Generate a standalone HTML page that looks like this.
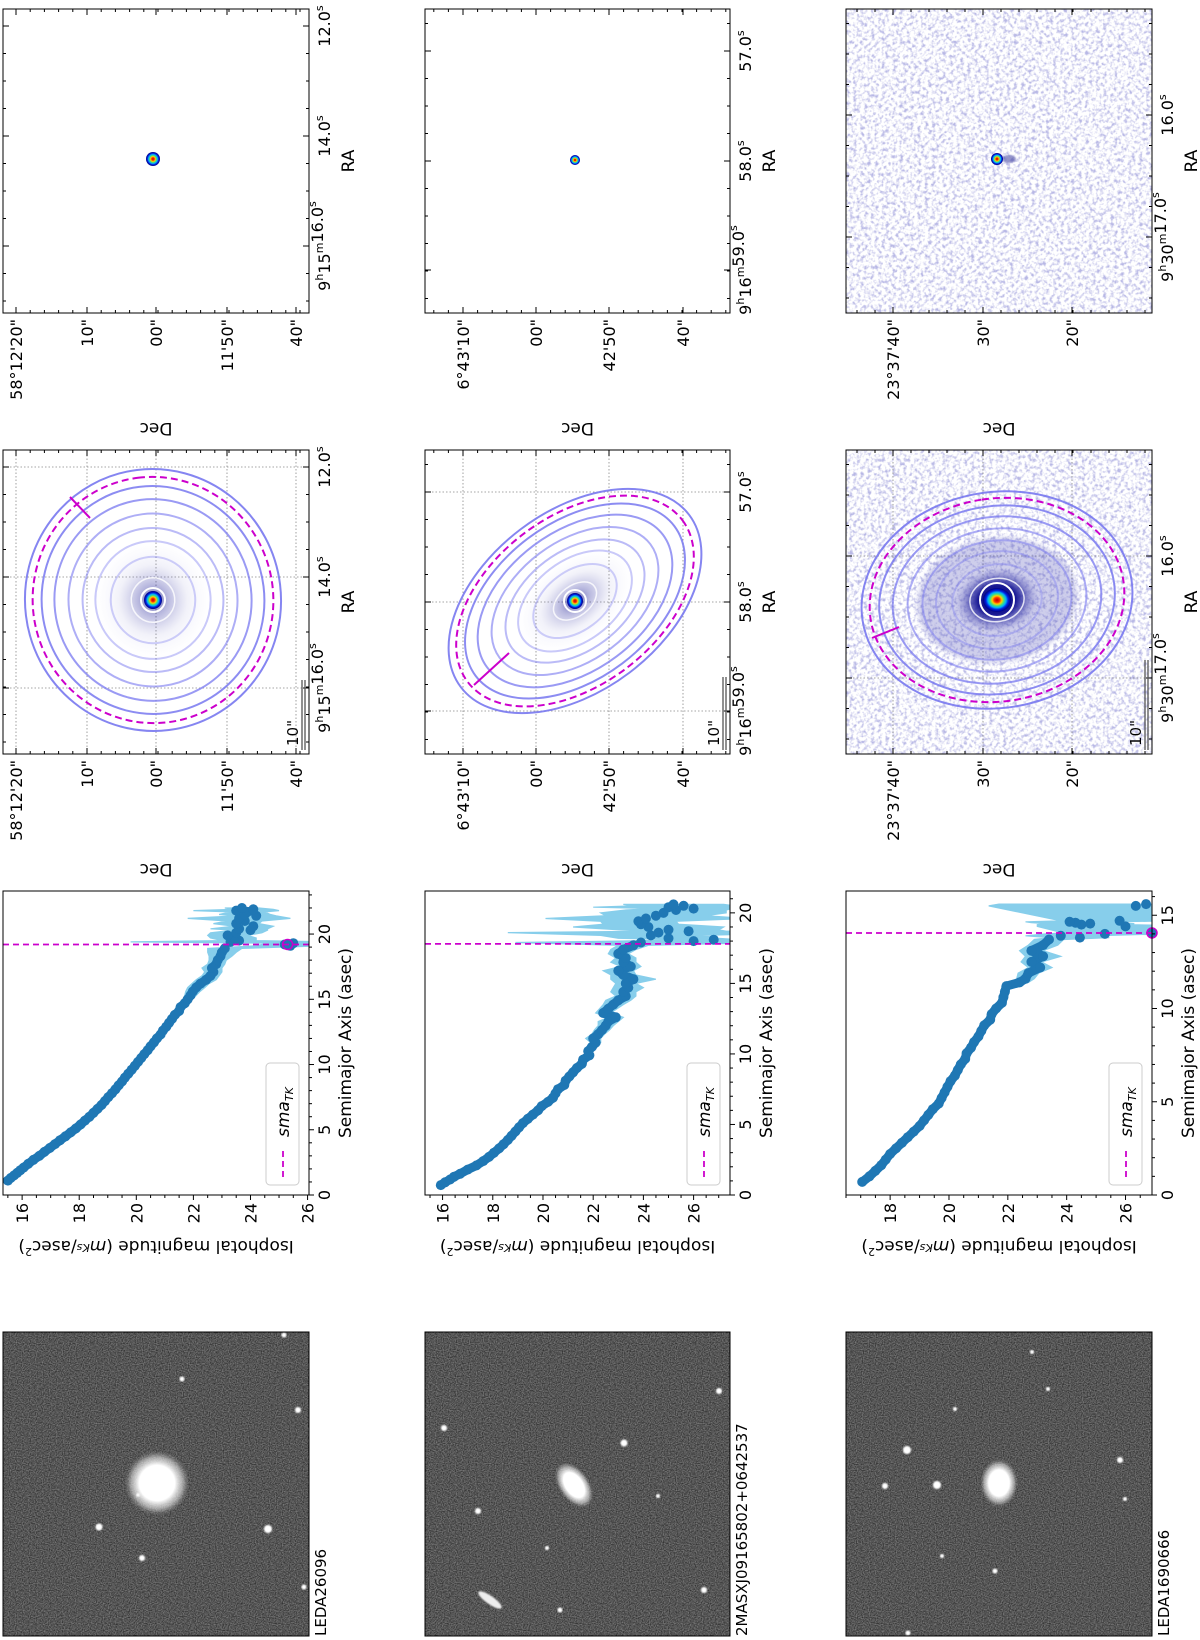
<!DOCTYPE html>
<html>
<head>
<meta charset="utf-8">
<style>
  html,body{margin:0;padding:0;background:#fff;}
  body{width:1200px;height:1640px;overflow:hidden;position:relative;}
  #rot{position:absolute;left:0;top:0;width:1640px;height:1200px;transform-origin:0 0;transform:translate(0px,1640px) rotate(-90deg);}
  svg text{font-family:"DejaVu Sans","Liberation Sans",sans-serif;fill:#000;}
</style>
</head>
<body>
<div id="rot">
<svg id="fig" width="1640" height="1200" xmlns="http://www.w3.org/2000/svg">
  <defs>
    <filter id="grayNoise" x="0" y="0" width="1" height="1" color-interpolation-filters="sRGB">
      <feTurbulence type="fractalNoise" baseFrequency="0.85" numOctaves="1" seed="3" result="t"/>
      <feColorMatrix in="t" type="matrix" values="0.55 0 0 0 0.06  0.55 0 0 0 0.06  0.55 0 0 0 0.06  0 0 0 0 1"/>
    </filter>
    <filter id="blueNoise" x="0" y="0" width="1" height="1" color-interpolation-filters="sRGB">
      <feTurbulence type="fractalNoise" baseFrequency="0.28" numOctaves="2" seed="7" result="t"/>
      <feColorMatrix in="t" type="matrix" values="0 0 0 0 0.45  0 0 0 0 0.45  0 0 0 0 0.8  3.2 0 0 0 -1.45"/>
    </filter>
    <filter id="blur2"><feGaussianBlur stdDeviation="2"/></filter>
    <filter id="blur1"><feGaussianBlur stdDeviation="0.8"/></filter>
    <radialGradient id="rainbow">
      <stop offset="0" stop-color="#c00000"/>
      <stop offset="0.2" stop-color="#ff3000"/>
      <stop offset="0.35" stop-color="#ffd000"/>
      <stop offset="0.5" stop-color="#40e080"/>
      <stop offset="0.65" stop-color="#00b0ff"/>
      <stop offset="0.8" stop-color="#0020e0"/>
      <stop offset="1" stop-color="#000080"/>
    </radialGradient>
    <radialGradient id="halo">
      <stop offset="0" stop-color="#000080" stop-opacity="0.9"/>
      <stop offset="0.25" stop-color="#3030a0" stop-opacity="0.5"/>
      <stop offset="0.6" stop-color="#8080c8" stop-opacity="0.15"/>
      <stop offset="1" stop-color="#c0c0ff" stop-opacity="0"/>
    </radialGradient>
    <radialGradient id="haloDark">
      <stop offset="0" stop-color="#000070" stop-opacity="1"/>
      <stop offset="0.45" stop-color="#101090" stop-opacity="0.95"/>
      <stop offset="0.7" stop-color="#3a3aa8" stop-opacity="0.55"/>
      <stop offset="1" stop-color="#8080d0" stop-opacity="0"/>
    </radialGradient>
    <radialGradient id="blob">
      <stop offset="0" stop-color="#fff"/>
      <stop offset="0.55" stop-color="#fff"/>
      <stop offset="0.8" stop-color="#ddd" stop-opacity="0.6"/>
      <stop offset="1" stop-color="#999" stop-opacity="0"/>
    </radialGradient>
  </defs>
</svg>
</div>
<script>
// ---------------- DATA ----------------
const galaxyNames = ["LEDA26096", "2MASXJ09165802+0642537", "LEDA1690666"];

const g1Sma = [1.1,1.3,1.5,1.7,1.9,2.1,2.4,2.7,3.0,3.3,3.6,3.9,4.2,4.5,4.8,5.1,5.4,5.7,6.0,6.3,6.6,6.9,7.2,7.5,7.8,8.1,8.4,8.7,9.0,9.3,9.6,9.9,10.2,10.5,10.8,11.1,11.4,11.7,12.0,12.3,12.6,12.9,13.2,13.5,13.8,14.1,14.4,14.7,15.0,15.3,15.6,15.9,16.2,16.5,16.8,17.1,17.4,17.7,18.0,18.3,18.6,18.9,
  19.1,19.2,19.3,19.4,19.5,19.7,19.9,20.1,20.3,20.4,20.6,20.8,21.0,21.2,21.4,21.5,21.7,21.8,21.9,22.0];
const g1Mag = [15.5,15.6,15.72,15.83,15.94,16.05,16.22,16.4,16.6,16.78,16.97,17.15,17.33,17.52,17.7,17.88,18.05,18.2,18.36,18.5,18.64,18.78,18.9,19.02,19.15,19.27,19.38,19.5,19.6,19.72,19.84,19.95,20.06,20.17,20.28,20.4,20.5,20.62,20.72,20.85,20.93,21.05,21.15,21.25,21.35,21.5,21.55,21.7,21.8,21.9,21.98,22.1,22.25,22.45,22.6,22.7,22.65,22.8,22.85,22.95,23.0,23.1,
  25.4,25.2,25.5,23.3,23.6,23.4,23.2,23.5,24.0,23.6,24.1,23.5,23.8,23.6,24.2,23.8,23.9,23.5,24.1,23.7];
const g1Err = [0.04,0.04,0.04,0.04,0.04,0.04,0.04,0.04,0.04,0.04,0.04,0.04,0.04,0.04,0.04,0.04,0.04,0.04,0.04,0.04,0.04,0.04,0.04,0.04,0.04,0.04,0.04,0.04,0.04,0.04,
  0.08,0.08,0.08,0.08,0.08,0.08,0.08,0.08,0.08,0.08,0.08,0.08,0.08,0.08,0.08,0.08,0.08,0.08,
  0.15,0.2,0.25,0.3,0.3,0.35,0.3,0.3,0.35,0.3,0.3,0.4,0.5,0.6,
  1.2,0.8,0.6,3.5,0.6,0.8,0.7,0.9,0.6,1.0,0.7,0.8,0.6,1.8,0.7,0.9,0.6,1.5,0.7,0.6];

const g2Sma = [0.7,0.9,1.1,1.3,1.5,1.8,2.1,2.4,2.7,3.0,3.3,3.6,3.9,4.2,4.5,4.8,5.1,5.4,5.7,6.0,6.3,6.6,6.9,7.2,7.5,7.8,8.1,8.4,8.7,9.0,9.3,9.6,9.9,10.2,10.5,10.8,11.1,11.4,11.7,12.0,12.3,12.6,12.9,13.2,13.5,13.8,14.1,14.4,14.7,15.0,15.3,15.6,15.9,16.2,16.5,16.8,17.1,17.4,17.7,
  17.9,18.0,18.1,18.2,18.4,18.6,18.7,18.8,19.0,19.2,19.4,19.6,19.8,20.0,20.2,20.3,20.4,20.5,20.6];
const g2Mag = [15.93,16.1,16.3,16.46,16.7,17.0,17.35,17.62,17.85,18.05,18.25,18.43,18.6,18.75,18.9,19.05,19.2,19.4,19.6,19.8,19.95,20.2,20.4,20.5,20.6,20.85,20.9,21.05,21.2,21.35,21.55,21.6,21.85,21.8,21.95,22.1,22.0,22.2,22.35,22.5,22.6,22.9,22.4,22.6,22.8,23.0,23.3,23.2,23.4,23.3,23.6,23.2,23.0,23.5,23.2,23.3,23.0,23.2,23.6,
  23.9,26.0,26.8,25.0,24.3,24.6,25.8,25.0,24.2,23.9,23.8,24.1,24.5,24.8,25.3,26.0,25.0,25.6,25.2];
const g2Err = [0.05,0.05,0.05,0.05,0.05,0.05,0.05,0.05,0.05,0.05,0.05,0.05,0.05,0.05,0.05,0.05,0.05,0.05,0.05,0.05,0.05,0.05,0.05,0.05,0.05,0.05,0.05,0.05,0.05,0.05,
  0.1,0.1,0.15,0.15,0.2,0.2,0.3,0.25,0.3,0.3,0.4,0.3,0.3,0.35,0.4,0.5,0.4,0.5,0.6,0.4,0.9,0.5,0.6,0.4,0.5,0.4,0.4,0.5,0.6,
  5,3,1,2,2,6,1.5,2,3,1.5,1.5,4,2,2.5,2,1.5,3,2,2];

const g3Sma = [0.7,1.0,1.3,1.6,1.9,2.2,2.5,2.8,3.1,3.4,3.7,4.0,4.3,4.6,4.9,5.2,5.5,5.8,6.1,6.4,6.7,7.0,7.3,7.6,7.9,8.2,8.5,8.8,9.1,9.4,9.7,10.0,10.3,10.6,10.9,11.2,11.4,11.6,11.9,12.2,12.5,12.8,13.1,13.4,13.7,
  13.8,13.9,14.0,14.05,14.4,14.5,14.55,14.6,14.65,14.7,15.5,15.6];
const g3Mag = [17.05,17.3,17.5,17.7,17.85,18.0,18.2,18.4,18.6,18.8,19.0,19.15,19.3,19.45,19.65,19.75,19.85,19.95,20.05,20.2,20.3,20.4,20.55,20.6,20.75,20.85,21.0,21.1,21.2,21.4,21.45,21.6,21.8,21.85,21.9,21.95,22.4,22.6,22.7,23.1,22.8,23.2,22.8,23.2,23.4,
  24.45,23.8,25.3,26.9,26.0,24.5,24.8,24.3,24.1,25.8,26.35,26.7];
const g3Err = [0.05,0.05,0.05,0.05,0.05,0.05,0.05,0.05,0.05,0.05,0.05,0.05,0.05,0.05,0.05,0.05,0.05,0.05,0.05,0.05,0.05,0.05,0.05,0.05,0.05,0.05,0.05,0.05,0.05,0.05,0.05,0.05,0.08,0.08,0.1,0.15,
  0.3,0.3,0.35,0.4,0.35,0.6,0.4,0.5,0.5,
  1,1.2,2,3,3,1.5,1.5,1.5,1.5,2,5,5];

const smaTK = [19.2, 17.8, 14.05];
const curveLimit = [19.0, 17.75, 13.75];
const tkMag = [25.3, null, 26.9];
const magTicks = [[16,18,20,22,24,26],[16,18,20,22,24,26],[18,20,22,24,26]];
const smaTicks = [[0,5,10,15,20],[0,5,10,15,20],[0,5,10,15]];

const decLabels = [["58°12'20\"","10\"","00\"","11'50\"","40\""],["6°43'10\"","00\"","42'50\"","40\""],["23°37'40\"","30\"","20\""]];
const raLabels = [[["","12.0"],["","14.0"],["9h15m","16.0"]],[["","57.0"],["","58.0"],["9h16m","59.0"]],[["","16.0"],["9h30m","17.0"]]];

// ---------------- LAYOUT (pixel geometry, not data) ----------------
const rowY = [[3,309],[425,730],[846,1152]];
const profX = [445,749];
const profRange = [{m0:15.33,m1:26.05,smax:23.3},{m0:15.3,m1:27.45,smax:21.55},{m0:16.5,m1:26.9,smax:16.3}];
const contX = [886,1190];
const singX = [1327,1631];
const decTickY = [[16,87,156,227,296],[463,536,609,683],[893,983,1072]];
const raTickXc = [[1173,1063,952],[1148,1038,929],[1084,962]];
const raTickXs = [[1614,1504,1394],[1589,1479,1370],[1525,1403]];

const NS='http://www.w3.org/2000/svg';
const svg=document.getElementById('fig');
function mk(tag, attrs, name, parent, text){
  const el=document.createElementNS(NS,tag);
  for(const k in attrs) el.setAttribute(k,attrs[k]);
  
  
  if(text!=null) el.textContent=text;
  (parent||svg).appendChild(el);
  return el;
}

// ---------------- GRAYSCALE PANELS ----------------
const grayStars = [
  [[113,99,3.5],[111,268,4],[82,142,3],[261,182,2.5],[230,298,3],[305,284,2.5],[53,304,2.5],[145,138,1.8]],
  [[212,444,3],[129,478,3],[197,624,3.5],[50,704,3],[249,719,3],[92,547,2],[144,658,2],[30,560,2.5]],
  [[190,907,4],[155,937,4],[154,885,3],[231,955,2],[288,1032,2],[180,1120,3],[69,995,2.5],[84,942,2],[251,1048,2],[141,1125,2],[7,908,2.5]]
];
const grayBlob = [[157,157,19,19,0],[155,574,15,9,-35],[157,999,14,11,0]];
for(let g=0; g<3; g++){
  const y0=rowY[g][0], y1=rowY[g][1];
  const grp = mk('g',{},'grayscale-image-'+(g+1));
  mk('rect',{x:4,y:y0,width:304,height:y1-y0,fill:'#555'},'grayscale-background',grp);
  mk('rect',{x:4,y:y0,width:304,height:y1-y0,filter:'url(#grayNoise)'},'grayscale-noise',grp);
  const b=grayBlob[g];
  mk('ellipse',{cx:b[0],cy:b[1],rx:b[2]*1.7,ry:b[3]*1.7,fill:'url(#blob)',transform:`rotate(${b[4]} ${b[0]} ${b[1]})`},'target-galaxy-blob',grp);
  if(g===1){ mk('ellipse',{cx:40,cy:490,rx:14,ry:4,fill:'#eee',transform:'rotate(-55 40 490)',filter:'url(#blur1)'},'star-streak',grp); }
  grayStars[g].forEach(s=>{
    mk('circle',{cx:s[0],cy:s[1],r:s[2],fill:'#fff',filter:'url(#blur1)'},'field-star',grp);
  });
  mk('rect',{x:4,y:y0,width:304,height:y1-y0,fill:'none',stroke:'#000','stroke-width':1},'grayscale-frame',grp);
  mk('text',{x:4,y:y1+17,'font-size':15},'galaxy-name-label',grp,galaxyNames[g]);
}

// ---------------- PROFILE PLOTS ----------------
const smaSets=[g1Sma,g2Sma,g3Sma], magSets=[g1Mag,g2Mag,g3Mag], errSets=[g1Err,g2Err,g3Err];
for(let g=0; g<3; g++){
  const y0=rowY[g][0], y1=rowY[g][1], pr=profRange[g];
  const x0=profX[0], x1=profX[1];
  const xs = s => x0 + s*(x1-x0)/pr.smax;
  const ys = m => y0 + (m-pr.m0)/(pr.m1-pr.m0)*(y1-y0);
  const grp = mk('g',{},'profile-plot-'+(g+1));
  const cid='clipP'+g;
  const cp = mk('clipPath',{id:cid},'plot-clip',grp);
  mk('rect',{x:x0,y:y0,width:x1-x0,height:y1-y0},'plot-clip-rect',cp);
  const sma=smaSets[g], mag=magSets[g], err=errSets[g];
  let up=[], lo=[], main=[];
  for(let i=0;i<sma.length;i++){
    const e = err[i]!=null?err[i]:0.3;
    up.push(xs(sma[i]).toFixed(1)+','+ys(mag[i]-e).toFixed(1));
    lo.unshift(xs(sma[i]).toFixed(1)+','+ys(mag[i]+e).toFixed(1));
    if(sma[i] <= curveLimit[g]) main.push(xs(sma[i]).toFixed(1)+','+ys(mag[i]).toFixed(1));
  }
  mk('polygon',{points:up.concat(lo).join(' '),fill:'#87ceeb',stroke:'#87ceeb','stroke-width':1.2,'clip-path':`url(#${cid})`},'error-band',grp);
  mk('polyline',{points:main.join(' '),fill:'none',stroke:'#1f77b4','stroke-width':9,'stroke-linejoin':'round','stroke-linecap':'round','clip-path':`url(#${cid})`},'profile-trend',grp);
  const pts = mk('g',{'clip-path':`url(#${cid})`},'profile-points',grp);
  for(let i=0;i<sma.length;i++){
    mk('circle',{cx:xs(sma[i]).toFixed(1),cy:ys(mag[i]).toFixed(1),r:5,fill:'#1f77b4'},'profile-point',pts);
  }
  if(tkMag[g]!=null){
    mk('circle',{cx:xs(smaTK[g]),cy:ys(tkMag[g]),r:5,fill:'#1f77b4',stroke:'#cc00cc','stroke-width':1.5},'sma-tk-point',grp);
  }
  mk('line',{x1:xs(smaTK[g]),x2:xs(smaTK[g]),y1:y0,y2:y1,stroke:'#cc00cc','stroke-width':1.8,'stroke-dasharray':'6,4'},'sma-tk-line',grp);
  mk('rect',{x:x0,y:y0,width:x1-x0,height:y1-y0,fill:'none',stroke:'#000','stroke-width':1},'plot-frame',grp);
  smaTicks[g].forEach(t=>{
    mk('line',{x1:xs(t),x2:xs(t),y1:y1,y2:y1+5,stroke:'#000'},'x-tick',grp);
    mk('text',{x:xs(t),y:y1+21,'font-size':16,'text-anchor':'middle'},'x-tick-label',grp,String(t));
  });
  for(let t=0;t<=pr.smax;t+=1){ if(t%5) mk('line',{x1:xs(t),x2:xs(t),y1:y1,y2:y1+3,stroke:'#000'},'x-minor-tick',grp); }
  magTicks[g].forEach(t=>{
    mk('line',{x1:x0-5,x2:x0,y1:ys(t),y2:ys(t),stroke:'#000'},'y-tick',grp);
    mk('text',{x:x0-8,y:ys(t)+6,'font-size':16,'text-anchor':'end'},'y-tick-label',grp,String(t));
  });
  for(let t=Math.ceil(pr.m0*2)/2;t<=pr.m1;t+=0.5){ if(t%2) mk('line',{x1:x0-3,x2:x0,y1:ys(t),y2:ys(t),stroke:'#000'},'y-minor-tick',grp); }
  mk('text',{x:(x0+x1)/2,y:y1+42,'font-size':17,'text-anchor':'middle'},'x-axis-title',grp,'Semimajor Axis (asec)');
  const yl = mk('text',{x:0,y:0,'font-size':17,'text-anchor':'middle',transform:`translate(${x0-46},${(y0+y1)/2}) rotate(-90)`},'y-axis-title',grp);
  yl.innerHTML = 'Isophotal magnitude (<tspan font-style="italic">m</tspan><tspan font-size="11" dy="-3" font-style="italic">Ks</tspan><tspan dy="3">/asec</tspan><tspan font-size="11" dy="-7">2</tspan><tspan dy="7">)</tspan>';
  const lg = mk('g',{},'legend',grp);
  mk('rect',{x:x0+10,y:y1-43,width:122,height:33,rx:4,fill:'#fff',stroke:'#ccc'},'legend-box',lg);
  mk('line',{x1:x0+18,x2:x0+46,y1:y1-26,y2:y1-26,stroke:'#cc00cc','stroke-width':1.8,'stroke-dasharray':'6,4'},'legend-line',lg);
  const lt = mk('text',{x:x0+58,y:y1-20,'font-size':17,'font-style':'italic'},'legend-label',lg);
  lt.innerHTML = 'sma<tspan font-size="11" dy="4">TK</tspan>';
}

// ---------------- SKY PANELS (contour + single) ----------------
const ellipseSets = [
  {cx:1040,cy:153,rx:131,ry:128,rot:-7,tick:[1143,70,1122,90]},
  {cx:1039,cy:575,rx:143,ry:90,rot:53,tick:[955,474,987,509]},
  {cx:1040,cy:997,rx:108,ry:136,rot:-8.5,tick:[1002,872,1013,899]}
];
const ringScale = [1,0.87,0.77,0.66,0.55,0.45,0.33];
const ringAlpha = [0.9,0.85,0.75,0.6,0.5,0.4,0.35];
const scaleLen = [70,73,90];

function skyPanel(g, xr, isContour){
  const y0=rowY[g][0], y1=rowY[g][1], x0=xr[0], x1=xr[1];
  const grp = mk('g',{},(isContour?'isophote-panel-':'model-panel-')+(g+1));
  const cid = (isContour?'clipC':'clipS')+g;
  const cp = mk('clipPath',{id:cid},'panel-clip',grp);
  mk('rect',{x:x0,y:y0,width:x1-x0,height:y1-y0},'panel-clip-rect',cp);
  const inner = mk('g',{'clip-path':`url(#${cid})`},'panel-image',grp);
  mk('rect',{x:x0,y:y0,width:x1-x0,height:y1-y0,fill:'#fff'},'panel-background',inner);
  if(g===2) mk('rect',{x:x0,y:y0,width:x1-x0,height:y1-y0,filter:'url(#blueNoise)',opacity:0.5},'noise-background',inner);
  const E = ellipseSets[g];
  const cx = isContour?E.cx:(E.cx-1040+1481), cy=E.cy;
  const tr = `rotate(${E.rot} ${cx} ${cy})`;
  if(isContour){
    decTickY[g].forEach(t=>mk('line',{x1:x0,x2:x1,y1:t,y2:t,stroke:'#888','stroke-width':0.8,'stroke-dasharray':'1.5,2'},'grid-line',inner));
    raTickXc[g].forEach(t=>mk('line',{x1:t,x2:t,y1:y0,y2:y1,stroke:'#888','stroke-width':0.8,'stroke-dasharray':'1.5,2'},'grid-line',inner));
    if(g===2){
      mk('ellipse',{cx:cx,cy:cy,rx:62,ry:80,fill:'#6060c0',opacity:0.3,filter:'url(#blur2)',transform:tr},'galaxy-halo-outer',inner);
      mk('ellipse',{cx:cx,cy:cy,rx:32,ry:42,fill:'url(#haloDark)',transform:tr},'galaxy-core-halo',inner);
    } else {
      mk('ellipse',{cx:cx,cy:cy,rx:E.rx*0.45,ry:E.ry*0.45,fill:'url(#halo)',opacity:0.7,transform:tr},'galaxy-halo',inner);
    }
    ringScale.forEach((s,i)=>{
      mk('ellipse',{cx:cx,cy:cy,rx:E.rx*s,ry:E.ry*s,fill:'none',stroke:'#7878f0','stroke-width':2,'stroke-opacity':ringAlpha[i],transform:tr},'isophote-ellipse',inner);
    });
    mk('ellipse',{cx:cx,cy:cy,rx:E.rx*0.94,ry:E.ry*0.94,fill:'none',stroke:'#cc00cc','stroke-width':2,'stroke-dasharray':'7,4',transform:tr},'sma-tk-ellipse',inner);
    const ws = g===2?0.2:0.17;
    mk('ellipse',{cx:cx,cy:cy,rx:E.rx*ws,ry:E.ry*ws,fill:'none',stroke:'#fff','stroke-width':1.5,'stroke-opacity':0.8,transform:tr},'white-isophote',inner);
    const t=E.tick;
    mk('line',{x1:t[0],y1:t[1],x2:t[2],y2:t[3],stroke:'#cc00cc','stroke-width':2},'pa-marker',inner);
    const cr = g===2?14:(g===0?9:8);
    mk('circle',{cx:cx,cy:cy,r:cr+3,fill:'none',stroke:'#fff','stroke-width':2},'core-white-ring',inner);
    mk('ellipse',{cx:cx,cy:cy,rx:g===2?cr*0.85:cr,ry:cr,fill:'url(#rainbow)'},'galaxy-core',inner);
  } else {
    if(g===2){
      mk('ellipse',{cx:cx,cy:cy+12,rx:4,ry:7,fill:'#5050a8',opacity:0.6,filter:'url(#blur1)'},'faint-companion',inner);
    }
    const cr = g===0?7:(g===1?5:6);
    mk('circle',{cx:cx,cy:cy,r:cr,fill:'url(#rainbow)'},'galaxy-core',inner);
  }
  mk('rect',{x:x0,y:y0,width:x1-x0,height:y1-y0,fill:'none',stroke:'#000','stroke-width':1},'panel-frame',grp);
  const dt = decTickY[g];
  const dstep = dt[1]-dt[0];
  dt.forEach((t,i)=>{
    mk('line',{x1:x0,x2:x0+6,y1:t,y2:t,stroke:'#000'},'dec-tick',grp);
    mk('line',{x1:x1-6,x2:x1,y1:t,y2:t,stroke:'#000'},'dec-tick',grp);
    mk('text',{x:x0-6,y:t+6,'font-size':16,'text-anchor':'end'},'dec-tick-label',grp,decLabels[g][i]);
  });
  for(let t=dt[0]-dstep;t<y1+dstep;t+=dstep/5){
    if(t>y0+1 && t<y1-1){ mk('line',{x1:x0,x2:x0+3,y1:t,y2:t,stroke:'#000'},'dec-minor-tick',grp); mk('line',{x1:x1-3,x2:x1,y1:t,y2:t,stroke:'#000'},'dec-minor-tick',grp); }
  }
  const rt = isContour?raTickXc[g]:raTickXs[g];
  const rstep = rt[0]-rt[1];
  rt.forEach((t,i)=>{
    mk('line',{x1:t,x2:t,y1:y1-6,y2:y1,stroke:'#000'},'ra-tick',grp);
    mk('line',{x1:t,x2:t,y1:y0,y2:y0+6,stroke:'#000'},'ra-tick',grp);
    const lab = raLabels[g][i];
    const tx = mk('text',{x:t,y:y1+21,'font-size':16,'text-anchor':'middle'},'ra-tick-label',grp);
    let html='';
    if(lab[0]){ const m=lab[0].match(/(\d+)h(\d+)m/); html += m[1]+'<tspan font-size="11" dy="-7">h</tspan><tspan dy="7">'+m[2]+'</tspan><tspan font-size="11" dy="-7">m</tspan><tspan dy="7"></tspan>'; }
    html += lab[1]+'<tspan font-size="11" dy="-7">s</tspan>';
    tx.innerHTML = html;
  });
  for(let t=rt[0]+rstep;t>x0-rstep;t-=rstep/4){
    if(t>x0+1 && t<x1-1){ mk('line',{x1:t,x2:t,y1:y1-3,y2:y1,stroke:'#000'},'ra-minor-tick',grp); mk('line',{x1:t,x2:t,y1:y0,y2:y0+3,stroke:'#000'},'ra-minor-tick',grp); }
  }
  mk('text',{x:(x0+x1)/2,y:y1+45,'font-size':17,'text-anchor':'middle'},'ra-axis-title',grp,'RA');
  mk('text',{x:0,y:0,'font-size':17,'text-anchor':'middle',transform:`translate(${x0-110},${(y0+y1)/2}) rotate(-90)`},'dec-axis-title',grp,'Dec');
  if(isContour){
    const L=scaleLen[g];
    mk('line',{x1:x0+4,x2:x0+4+L,y1:y1-4,y2:y1-4,stroke:'#555','stroke-width':1.3},'scale-bar',grp);
    mk('line',{x1:x0+4,x2:x0+4+L,y1:y1-7,y2:y1-7,stroke:'#555','stroke-width':1.3},'scale-bar',grp);
    mk('text',{x:x0+8,y:y1-11,'font-size':15},'scale-bar-label',grp,'10"');
  }
}
for(let g=0; g<3; g++){ skyPanel(g, contX, true); skyPanel(g, singX, false); }
</script>
</body>
</html>
